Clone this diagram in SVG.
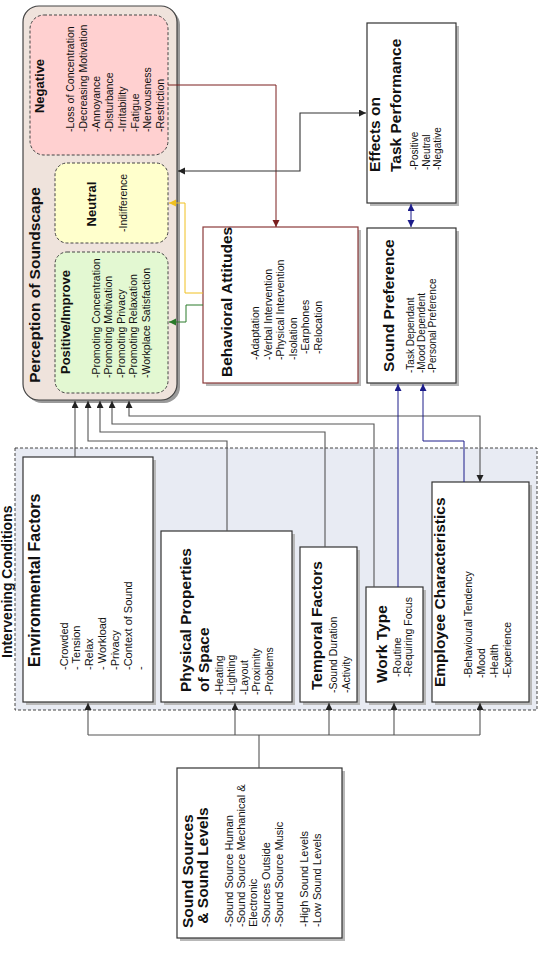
<svg xmlns="http://www.w3.org/2000/svg" width="540" height="958" viewBox="0 0 540 958">
<style>
text{font-family:"Liberation Sans",Arial,sans-serif;fill:#111}
.ti{font-weight:bold;font-size:15.5px}
.st{font-weight:bold;font-size:13px}
.it{font-size:10.5px}
.box{fill:#fff;stroke:#333;stroke-width:1.2}
.sh{fill:#b8b8b8}
.dash{stroke:#444;stroke-width:1;stroke-dasharray:3,2}
.c{fill:none;stroke:#555;stroke-width:1.1}
</style>
<defs>
<marker id="ab" markerUnits="userSpaceOnUse" markerWidth="8" markerHeight="8" refX="7" refY="3.5" orient="auto-start-reverse"><path d="M0,0 L7,3.5 L0,7 z" fill="#222"/></marker>
<marker id="abl" markerUnits="userSpaceOnUse" markerWidth="8" markerHeight="8" refX="7" refY="3.5" orient="auto-start-reverse"><path d="M0,0 L7,3.5 L0,7 z" fill="#1c1c8a"/></marker>
<marker id="ar" markerUnits="userSpaceOnUse" markerWidth="8" markerHeight="8" refX="7" refY="3.5" orient="auto-start-reverse"><path d="M0,0 L7,3.5 L0,7 z" fill="#7a1f1f"/></marker>
<marker id="ay" markerUnits="userSpaceOnUse" markerWidth="8" markerHeight="8" refX="7" refY="3.5" orient="auto-start-reverse"><path d="M0,0 L7,3.5 L0,7 z" fill="#f0c020"/></marker>
<marker id="ag" markerUnits="userSpaceOnUse" markerWidth="8" markerHeight="8" refX="7" refY="3.5" orient="auto-start-reverse"><path d="M0,0 L7,3.5 L0,7 z" fill="#2a7a2a"/></marker>
</defs>
<rect width="540" height="958" fill="#fff"/>

<g id="intervening">
<rect x="15" y="448" width="522" height="262" fill="#e8ebf3" class="dash"/>
<text class="ti" style="font-size:14px" transform="rotate(-90)" x="-658" y="11.5">Intervening Conditions</text>
</g>

<g id="perception">
<rect x="26" y="9" width="154" height="394" rx="16" fill="#9a9a9a"/>
<rect x="23" y="6" width="154" height="394" rx="16" fill="#efe3dc" stroke="#444" stroke-width="1.2"/>
<text class="ti" transform="rotate(-90)" x="-285" y="40" text-anchor="middle">Perception of Soundscape</text>
<g id="negative">
<rect x="30" y="15" width="138" height="140" rx="14" fill="#ffd0d0" class="dash"/>
<text class="st" transform="rotate(-90)" x="-86" y="44" text-anchor="middle">Negative</text>
<text class="it" transform="rotate(-90)"><tspan x="-132" y="74">-Loss of Concentration</tspan><tspan x="-132" y="86.9">-Decreasing Motivation</tspan><tspan x="-132" y="99.8">-Annoyance</tspan><tspan x="-132" y="112.7">-Disturbance</tspan><tspan x="-132" y="125.6">-Irritability</tspan><tspan x="-132" y="138.5">-Fatigue</tspan><tspan x="-132" y="151.4">-Nervousness</tspan><tspan x="-132" y="164.3">-Restriction</tspan></text>
</g>
<g id="neutral">
<rect x="55" y="163" width="113" height="80" rx="12" fill="#ffffcc" class="dash"/>
<text class="st" transform="rotate(-90)" x="-204" y="96" text-anchor="middle">Neutral</text>
<text class="it" transform="rotate(-90)" x="-232" y="127">-Indifference</text>
</g>
<g id="positive">
<rect x="55" y="252" width="113" height="141" rx="12" fill="#e3f8d2" class="dash"/>
<text class="st" transform="rotate(-90)" x="-322" y="70" text-anchor="middle">Positive/Improve</text>
<text class="it" transform="rotate(-90)"><tspan x="-378" y="99.5">-Promoting Concentration</tspan><tspan x="-378" y="112">-Promoting Motivation</tspan><tspan x="-378" y="124.5">-Promoting Privacy</tspan><tspan x="-378" y="137">-Promoting Relaxation</tspan><tspan x="-378" y="149.5">-Workplace Satisfaction</tspan></text>
</g>
</g>

<g id="behavioral">
<rect x="206" y="230" width="155" height="156" class="sh"/>
<rect x="203" y="227" width="155" height="156" fill="#fff" stroke="#8b3a3a" stroke-width="1.2"/>
<text class="ti" transform="rotate(-90)" x="-377" y="232">Behavioral Attitudes</text>
<text class="it" transform="rotate(-90)"><tspan x="-360" y="259">-Adaptation</tspan><tspan x="-360" y="271.5">-Verbal Intervention</tspan><tspan x="-360" y="284">-Physical Intervention</tspan><tspan x="-360" y="296.5">-Isolation</tspan><tspan x="-354" y="309">-Earphones</tspan><tspan x="-354" y="321.5">-Relocation</tspan></text>
</g>

<g id="effects">
<rect x="370" y="26" width="89" height="180" class="sh"/>
<rect x="367" y="23" width="89" height="180" class="box"/>
<text class="ti" transform="rotate(-90)"><tspan x="-172" y="380">Effects on</tspan><tspan x="-172" y="401">Task Performance</tspan></text>
<text class="it" style="font-size:10px" transform="rotate(-90)"><tspan x="-170" y="418">-Positive</tspan><tspan x="-170" y="429.5">-Neutral</tspan><tspan x="-170" y="441">-Negative</tspan></text>
</g>

<g id="soundpref">
<rect x="370" y="231" width="89" height="155" class="sh"/>
<rect x="367" y="228" width="89" height="155" class="box"/>
<text class="ti" transform="rotate(-90)" x="-372" y="394">Sound Preference</text>
<text class="it" style="font-size:10px" transform="rotate(-90)"><tspan x="-373" y="413.5">-Task Dependant</tspan><tspan x="-373" y="424.5">-Mood Dependent</tspan><tspan x="-373" y="435.5">-Personal Preference</tspan></text>
</g>

<g id="environmental">
<rect x="26" y="460" width="130" height="245" class="sh"/>
<rect x="23" y="457" width="130" height="245" class="box"/>
<text class="ti" style="font-size:16px" transform="rotate(-90)" x="-667" y="39.5">Environmental Factors</text>
<text class="it" style="font-size:11px" transform="rotate(-90)"><tspan x="-670" y="67.5">-Crowded</tspan><tspan x="-670" y="80.3">- Tension</tspan><tspan x="-670" y="93.1">-Relax</tspan><tspan x="-670" y="105.9">- Workload</tspan><tspan x="-670" y="118.7">-Privacy</tspan><tspan x="-670" y="131.5">-Context of Sound</tspan><tspan x="-670" y="144.3">-</tspan></text>
</g>

<g id="physical">
<rect x="164" y="534" width="131" height="171" class="sh"/>
<rect x="161" y="531" width="131" height="171" class="box"/>
<text class="ti" transform="rotate(-90)"><tspan x="-692" y="191">Physical Properties</tspan><tspan x="-692" y="209">of Space</tspan></text>
<text class="it" transform="rotate(-90)"><tspan x="-695" y="222.5">-Heating</tspan><tspan x="-695" y="235">-Lighting</tspan><tspan x="-695" y="247.5">-Layout</tspan><tspan x="-695" y="260">-Proximity</tspan><tspan x="-695" y="272.5">-Problems</tspan></text>
</g>

<g id="temporal">
<rect x="303" y="550" width="57" height="155" class="sh"/>
<rect x="300" y="547" width="57" height="155" class="box"/>
<text class="ti" transform="rotate(-90)" x="-690" y="322">Temporal Factors</text>
<text class="it" transform="rotate(-90)"><tspan x="-693" y="337">-Sound Duration</tspan><tspan x="-693" y="350">-Activity</tspan></text>
</g>

<g id="worktype">
<rect x="369" y="590" width="57" height="115" class="sh"/>
<rect x="366" y="587" width="57" height="115" class="box"/>
<text class="ti" transform="rotate(-90)" x="-683" y="386.5">Work Type</text>
<text class="it" transform="rotate(-90)"><tspan x="-677" y="400.5">-Routine</tspan><tspan x="-677" y="412">-Requiring Focus</tspan></text>
</g>

<g id="employee">
<rect x="435" y="485" width="97" height="220" class="sh"/>
<rect x="432" y="482" width="97" height="220" class="box"/>
<text class="ti" transform="rotate(-90)" x="-687" y="445">Employee Characteristics</text>
<text class="it" transform="rotate(-90)"><tspan x="-678" y="471.5">-Behavioural Tendency</tspan><tspan x="-678" y="484.5">-Mood</tspan><tspan x="-678" y="497.5">-Health</tspan><tspan x="-678" y="510.5">-Experience</tspan></text>
</g>

<g id="soundsources">
<rect x="180" y="771" width="165" height="170" class="sh"/>
<rect x="177" y="768" width="165" height="170" class="box"/>
<text class="ti" transform="rotate(-90)"><tspan x="-928" y="193">Sound Sources</tspan><tspan x="-928" y="208"> &amp; Sound Levels</tspan></text>
<text class="it" style="font-size:11px" transform="rotate(-90)"><tspan x="-927" y="232.5">-Sound Source Human</tspan><tspan x="-927" y="244.5">-Sound Source Mechanical &amp;</tspan><tspan x="-927" y="256.5">Electronic</tspan><tspan x="-927" y="269.5">-Sources Outside</tspan><tspan x="-927" y="282.5">-Sound Source Music</tspan><tspan x="-927" y="307.5">-High Sound Levels</tspan><tspan x="-927" y="320.5">-Low Sound Levels</tspan></text>
</g>

<g id="connectors">
<path class="c" d="M259,768 V735 M88,735 H480"/>
<path class="c" d="M88,735 V703" marker-end="url(#ab)"/>
<path class="c" d="M235,735 V703" marker-end="url(#ab)"/>
<path class="c" d="M329,735 V703" marker-end="url(#ab)"/>
<path class="c" d="M394,735 V703" marker-end="url(#ab)"/>
<path class="c" d="M480,735 V703" marker-end="url(#ab)"/>
<path class="c" d="M75,457 V401" marker-end="url(#ab)"/>
<path class="c" d="M227,531 V441 H88 V401" marker-end="url(#ab)"/>
<path class="c" d="M325,547 V432 H100 V401" marker-end="url(#ab)"/>
<path class="c" d="M374,587 V424 H112 V401" marker-end="url(#ab)"/>
<path class="c" d="M480,482 V416 H129 V401" marker-start="url(#ab)" marker-end="url(#ab)"/>
<path fill="none" stroke="#1c1c8a" stroke-width="1" d="M398,587 V384" marker-end="url(#abl)"/>
<path fill="none" stroke="#1c1c8a" stroke-width="1" d="M464,482 V441 H423 V384" marker-end="url(#abl)"/>
<path fill="none" stroke="#1c1c8a" stroke-width="1" d="M411,204 V227" marker-start="url(#abl)" marker-end="url(#abl)"/>
<path fill="none" stroke="#7a1f1f" stroke-width="1" d="M168,85 H276 V227" marker-end="url(#ar)"/>
<path fill="none" stroke="#333" stroke-width="1.1" d="M366,113 H300 V171 H178" marker-start="url(#ab)" marker-end="url(#ab)"/>
<path fill="none" stroke="#f0c020" stroke-width="1" d="M203,293 H185 V203 H169" marker-end="url(#ay)"/>
<path fill="none" stroke="#2a7a2a" stroke-width="1" d="M203,305 H186 V322 H169" marker-end="url(#ag)"/>
</g>
</svg>
